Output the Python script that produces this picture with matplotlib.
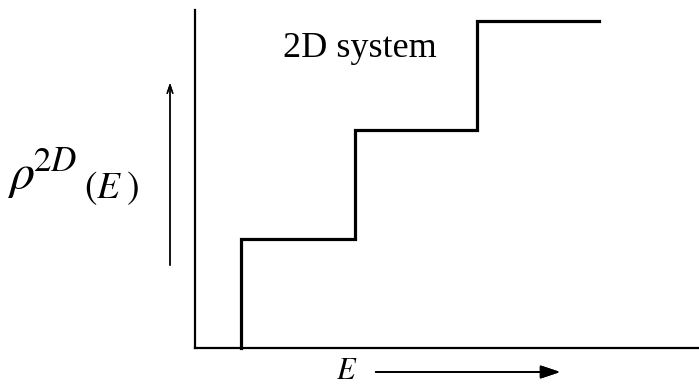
import matplotlib.pyplot as plt
import numpy as np

plt.rcParams['font.family'] = ['Liberation Serif', 'DejaVu Serif']
plt.rcParams['mathtext.fontset'] = 'stix'

# subband edges (energy units) and density of states plateaus
edges = [0.39, 1.36, 2.39]
levels = [1, 2, 3]
e_end = 3.42

W, H = 699, 385
fig = plt.figure(figsize=(W / 100, H / 100), dpi=100)


def fx(px):
    return px / W


def fy(py):
    return 1 - py / H


# axes box: y axis at x=195, x axis at y=348
ax = fig.add_axes([fx(195), fy(348), fx(W - 195), (348 - 10) / H])
ax.set_xlim(0, (W - 195) / 118)
ax.set_ylim(0, 338 / 109)

# staircase
xs = [edges[0]]
ys = [0]
for i, (e, lv) in enumerate(zip(edges, levels)):
    xs += [e, edges[i + 1] if i + 1 < len(edges) else e_end]
    ys += [lv, lv]
ax.plot(xs, ys, color='black', lw=2.3, solid_joinstyle='miter', clip_on=False)

for s in ['top', 'right']:
    ax.spines[s].set_visible(False)
for s in ['left', 'bottom']:
    ax.spines[s].set_linewidth(1.6)
ax.set_xticks([])
ax.set_yticks([])

fig.text(fx(283), fy(57), '2D system', fontsize=26, va='baseline', ha='left')

# y label rho^{2D}(E)
fig.text(fx(7), fy(189), r'$\rho^{\!2D}$', fontsize=36, va='baseline', ha='left')
fig.text(fx(84), fy(198), r'$(E\;)$', fontsize=27, va='baseline', ha='left')
fig.add_artist(plt.annotate('', xy=(fx(170), fy(80)), xytext=(fx(170), fy(268)),
                            xycoords='figure fraction',
                            arrowprops=dict(arrowstyle='->, head_length=0.6, head_width=0.2',
                                            lw=1.0, color='black')))

# x label and arrow
fig.text(fx(336), fy(379), r'$E$', fontsize=22, va='baseline', ha='left')
fig.add_artist(plt.annotate('', xy=(fx(563), fy(372)), xytext=(fx(373), fy(372)),
                            xycoords='figure fraction',
                            arrowprops=dict(arrowstyle='-|>, head_length=1.2, head_width=0.4',
                                            lw=1.3, color='black')))

fig.savefig('out.png', dpi=100)
